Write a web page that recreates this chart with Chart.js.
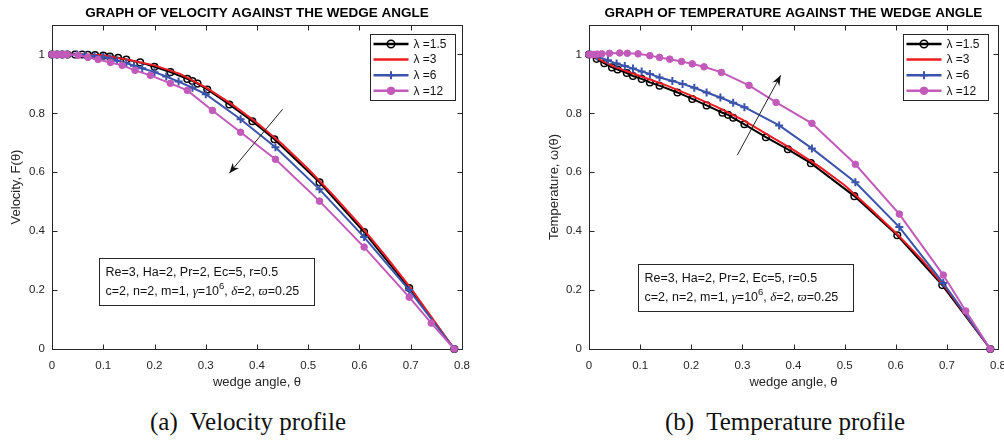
<!DOCTYPE html>
<html>
<head>
<meta charset="utf-8">
<script src="https://cdn.jsdelivr.net/npm/chart.js@4.4.0/dist/chart.umd.min.js"></script>
<style>
    body { margin: 0; background: #fff; width: 1004px; height: 441px; overflow: hidden; position: relative; }
    .panel { position: absolute; top: 0; }
    .caption { position: absolute; top: 408px; font-family: 'Liberation Serif', 'Times New Roman', serif; font-size: 25px; color: #111; white-space: nowrap; transform: translateX(-50%); }
</style>
</head>
<body>
<div class="panel" style="left:0"><canvas id="velocityChart" width="500" height="400"></canvas></div>
<div class="panel" style="left:500px"><canvas id="temperatureChart" width="504" height="400"></canvas></div>
<div class="caption" style="left:248px">(a)&nbsp; Velocity profile</div>
<div class="caption" style="left:785px">(b)&nbsp; Temperature profile</div>
<script>
const thetaTicks = [0, 0.1, 0.2, 0.3, 0.4, 0.5, 0.6, 0.7, 0.8];
const valueTicks = [0, 0.2, 0.4, 0.6, 0.8, 1];
const seriesLabels = ['λ =1.5', 'λ =3', 'λ =6', 'λ =12'];

// velocity F(theta)
const velTheta15 = [0, 0.01, 0.02, 0.03, 0.045, 0.059, 0.07, 0.084, 0.1, 0.113, 0.129, 0.145, 0.172, 0.2, 0.231, 0.264, 0.274, 0.284, 0.303, 0.346, 0.391, 0.434, 0.522, 0.609, 0.697, 0.785];
const velF15 = [1, 1, 1, 1, 1, 1, 0.999, 0.998, 0.996, 0.993, 0.989, 0.983, 0.973, 0.958, 0.94, 0.917, 0.91, 0.901, 0.881, 0.83, 0.773, 0.712, 0.566, 0.397, 0.207, 0];
const velTheta3 = [0, 0.05, 0.1, 0.15, 0.2, 0.25, 0.3, 0.35, 0.4, 0.45, 0.5, 0.55, 0.6, 0.65, 0.7, 0.785];
const velF3 = [1, 1, 0.997, 0.981, 0.963, 0.934, 0.888, 0.832, 0.768, 0.694, 0.611, 0.52, 0.423, 0.318, 0.207, 0];
const velTheta6 = [0, 0.01, 0.02, 0.03, 0.049, 0.065, 0.083, 0.1, 0.113, 0.127, 0.145, 0.16, 0.176, 0.2, 0.223, 0.247, 0.274, 0.3, 0.368, 0.436, 0.522, 0.609, 0.697, 0.785];
const velF6 = [1, 1, 1, 1, 1, 0.998, 0.995, 0.991, 0.986, 0.979, 0.97, 0.962, 0.953, 0.94, 0.925, 0.908, 0.887, 0.865, 0.78, 0.685, 0.542, 0.38, 0.2, 0];
const velTheta12 = [0, 0.005, 0.01, 0.015, 0.02, 0.025, 0.03, 0.051, 0.07, 0.09, 0.114, 0.137, 0.162, 0.192, 0.231, 0.264, 0.313, 0.368, 0.436, 0.522, 0.609, 0.697, 0.74, 0.785];
const velF12 = [1, 1, 1, 1, 1, 1, 1, 0.997, 0.99, 0.983, 0.973, 0.963, 0.946, 0.929, 0.902, 0.878, 0.81, 0.736, 0.644, 0.502, 0.346, 0.176, 0.088, 0];

// temperature omega(theta)
const tmpTheta15 = [0, 0.015, 0.03, 0.045, 0.056, 0.074, 0.086, 0.103, 0.119, 0.138, 0.173, 0.202, 0.23, 0.261, 0.272, 0.282, 0.304, 0.346, 0.389, 0.434, 0.519, 0.603, 0.691, 0.785];
const tmpW15 = [1, 0.985, 0.97, 0.956, 0.949, 0.937, 0.927, 0.917, 0.905, 0.894, 0.871, 0.849, 0.827, 0.802, 0.795, 0.785, 0.763, 0.719, 0.678, 0.631, 0.519, 0.386, 0.217, 0];
const tmpTheta3 = [0, 0.05, 0.1, 0.15, 0.2, 0.25, 0.3, 0.35, 0.4, 0.45, 0.5, 0.55, 0.6, 0.65, 0.7, 0.785];
const tmpW3 = [1, 0.958, 0.927, 0.896, 0.86, 0.822, 0.779, 0.727, 0.676, 0.62, 0.556, 0.477, 0.395, 0.305, 0.203, 0];
const tmpTheta6 = [0, 0.016, 0.037, 0.054, 0.07, 0.086, 0.103, 0.119, 0.138, 0.163, 0.183, 0.206, 0.23, 0.257, 0.282, 0.304, 0.372, 0.436, 0.521, 0.607, 0.693, 0.785];
const tmpW6 = [1, 0.994, 0.98, 0.969, 0.961, 0.952, 0.942, 0.934, 0.922, 0.91, 0.9, 0.887, 0.871, 0.854, 0.836, 0.821, 0.759, 0.681, 0.566, 0.414, 0.224, 0];
const tmpTheta12 = [0, 0.005, 0.01, 0.016, 0.025, 0.04, 0.06, 0.075, 0.096, 0.119, 0.138, 0.158, 0.181, 0.202, 0.225, 0.259, 0.313, 0.366, 0.436, 0.521, 0.607, 0.693, 0.737, 0.785];
const tmpW12 = [1, 1, 1, 1.001, 1.002, 1.004, 1.005, 1.004, 1.002, 0.996, 0.99, 0.984, 0.976, 0.968, 0.958, 0.939, 0.895, 0.837, 0.766, 0.627, 0.458, 0.251, 0.129, 0];

const paramLine1 = 'Re=3, Ha=2, Pr=2, Ec=5, r=0.5';
const velArrow = { from: [0.45, 0.814], to: [0.346, 0.597] };
const tmpArrow = { from: [0.29, 0.658], to: [0.375, 0.929] };

const SANS = '"Liberation Sans", Arial, sans-serif';
const SERIF = '"Liberation Serif", "Times New Roman", serif';
const AXIS_COLOR = '#262626';

function pairs(xs, ys) {
    return xs.map((x, i) => ({ x: x, y: ys[i] }));
}

function makeDatasets(t15, v15, t3, v3, t6, v6, t12, v12) {
    return [
        { label: seriesLabels[0], data: pairs(t15, v15), borderColor: '#000000', borderWidth: 2,
          pointStyle: 'circle', pointRadius: 3.3, pointBorderWidth: 1.5, pointBorderColor: '#000000',
          pointBackgroundColor: 'rgba(0,0,0,0)', order: 4, clip: false },
        { label: seriesLabels[1], data: pairs(t3, v3), borderColor: '#ee1b24', borderWidth: 2,
          pointRadius: 0, order: 3, clip: false },
        { label: seriesLabels[2], data: pairs(t6, v6), borderColor: '#3a54ab', borderWidth: 2,
          pointStyle: 'cross', pointRadius: 4, pointBorderWidth: 2, pointBorderColor: '#3a54ab',
          pointBackgroundColor: '#3a54ab', order: 2, clip: false },
        { label: seriesLabels[3], data: pairs(t12, v12), borderColor: '#c25aba', borderWidth: 2,
          pointStyle: 'circle', pointRadius: 3.3, pointBorderWidth: 1, pointBorderColor: '#c25aba',
          pointBackgroundColor: '#c25aba', order: 1, clip: false }
    ];
}

// box, inward ticks on all four sides, title, arrow, legend and parameter box
const framePlugin = {
    id: 'frame',
    beforeDatasetsDraw(chart) {
        const { ctx, chartArea: a, scales } = chart;
        const L = Math.round(a.left) + 0.5, R = Math.round(a.right) + 0.5;
        const T = Math.round(a.top) + 0.5, B = Math.round(a.bottom) + 0.5;
        ctx.save();
        ctx.strokeStyle = AXIS_COLOR;
        ctx.lineWidth = 1;
        ctx.strokeRect(L, T, R - L, B - T);
        ctx.beginPath();
        thetaTicks.forEach(v => {
            const x = Math.round(scales.x.getPixelForValue(v)) + 0.5;
            ctx.moveTo(x, B); ctx.lineTo(x, B - 5);
            ctx.moveTo(x, T); ctx.lineTo(x, T + 5);
        });
        valueTicks.forEach(v => {
            const y = Math.round(scales.y.getPixelForValue(v)) + 0.5;
            ctx.moveTo(L, y); ctx.lineTo(L + 5, y);
            ctx.moveTo(R, y); ctx.lineTo(R - 5, y);
        });
        ctx.stroke();
        ctx.restore();
    },
    afterDraw(chart, args, opts) {
        const { ctx, chartArea: a, scales } = chart;
        ctx.save();
        ctx.fillStyle = '#000';
        ctx.font = 'bold 13.5px ' + SANS;
        ctx.textAlign = 'center';
        ctx.textBaseline = 'middle';
        ctx.fillText(opts.title, (a.left + a.right) / 2, 13);

        // arrow
        const x1 = scales.x.getPixelForValue(opts.arrow.from[0]), y1 = scales.y.getPixelForValue(opts.arrow.from[1]);
        const x2 = scales.x.getPixelForValue(opts.arrow.to[0]), y2 = scales.y.getPixelForValue(opts.arrow.to[1]);
        const ang = Math.atan2(y2 - y1, x2 - x1);
        ctx.strokeStyle = '#222';
        ctx.lineWidth = 1;
        ctx.beginPath(); ctx.moveTo(x1, y1); ctx.lineTo(x2, y2); ctx.stroke();
        ctx.fillStyle = '#111';
        ctx.beginPath();
        ctx.moveTo(x2, y2);
        ctx.lineTo(x2 - 11 * Math.cos(ang - 0.38), y2 - 11 * Math.sin(ang - 0.38));
        ctx.lineTo(x2 - 7 * Math.cos(ang), y2 - 7 * Math.sin(ang));
        ctx.lineTo(x2 - 11 * Math.cos(ang + 0.38), y2 - 11 * Math.sin(ang + 0.38));
        ctx.closePath();
        ctx.fill();

        // legend box
        const lw = 85, lh = 66;
        const lx = Math.round(a.right - opts.legendRight - lw) + 0.5, ly = Math.round(a.top + 9) + 0.5;
        ctx.fillStyle = '#fff';
        ctx.fillRect(lx, ly, lw, lh);
        ctx.strokeStyle = AXIS_COLOR;
        ctx.strokeRect(lx, ly, lw, lh);
        chart.data.datasets.forEach((ds, i) => {
            const y = ly + 9.5 + i * 15.6;
            ctx.strokeStyle = ds.borderColor;
            ctx.lineWidth = ds.borderWidth + 0.5;
            ctx.beginPath(); ctx.moveTo(lx + 3, y); ctx.lineTo(lx + 38, y); ctx.stroke();
            const cx = lx + 20.5;
            if (ds.pointRadius > 0) {
                ctx.lineWidth = ds.pointBorderWidth;
                ctx.strokeStyle = ds.pointBorderColor;
                ctx.fillStyle = ds.pointBackgroundColor;
                if (ds.pointStyle === 'cross') {
                    ctx.lineWidth = 2;
                    ctx.beginPath();
                    ctx.moveTo(cx - 4, y); ctx.lineTo(cx + 4, y);
                    ctx.moveTo(cx, y - 4); ctx.lineTo(cx, y + 4);
                    ctx.stroke();
                } else {
                    ctx.beginPath(); ctx.arc(cx, y, ds.pointRadius + 0.5, 0, Math.PI * 2);
                    ctx.fill(); ctx.stroke();
                }
            }
            ctx.fillStyle = '#111';
            ctx.font = '12px ' + SANS;
            ctx.textAlign = 'left';
            ctx.fillText(ds.label, lx + 43, y + 0.5);
        });

        // parameter box
        const bx = Math.round(a.left + opts.boxLeft) + 0.5, by = Math.round(opts.boxTop) + 0.5;
        const bw = 215, bh = 47;
        ctx.fillStyle = '#fff';
        ctx.fillRect(bx, by, bw, bh);
        ctx.strokeStyle = AXIS_COLOR;
        ctx.lineWidth = 1;
        ctx.strokeRect(bx, by, bw, bh);
        ctx.fillStyle = '#111';
        ctx.textAlign = 'left';
        ctx.font = '12.5px ' + SANS;
        ctx.fillText(paramLine1, bx + 6, by + 14);
        const parts = [
            ['c=2, n=2, m=1, ', '12.5px ' + SANS, 0],
            ['γ', 'italic 13px ' + SERIF, 0],
            ['=10', '12.5px ' + SANS, 0],
            ['6', '9.5px ' + SANS, -5],
            [', ', '12.5px ' + SANS, 0],
            ['δ', 'italic 13px ' + SERIF, 0],
            ['=2, ', '12.5px ' + SANS, 0],
            ['ϖ', 'italic 13px ' + SERIF, 0],
            ['=0.25', '12.5px ' + SANS, 0]
        ];
        let px = bx + 6;
        parts.forEach(p => {
            ctx.font = p[1];
            ctx.fillText(p[0], px, by + 33 + p[2]);
            px += ctx.measureText(p[0]).width;
        });
        ctx.restore();
    }
};

function makeChart(canvasId, datasets, cfg) {
    const ctx = document.getElementById(canvasId).getContext('2d');
    return new Chart(ctx, {
        type: 'line',
        data: { datasets: datasets },
        plugins: [framePlugin],
        options: {
            responsive: false,
            animation: false,
            layout: { padding: { left: 0, right: cfg.padRight, top: 25, bottom: 0 } },
            elements: { line: { tension: 0 } },
            plugins: {
                legend: { display: false },
                tooltip: { enabled: false },
                frame: { title: cfg.title, arrow: cfg.arrow, legendRight: cfg.legendRight, boxLeft: cfg.boxLeft, boxTop: cfg.boxTop }
            },
            scales: {
                x: {
                    type: 'linear', min: 0, max: 0.8,
                    afterBuildTicks: s => { s.ticks = thetaTicks.map(v => ({ value: v })); },
                    afterFit: s => { s.height = 51; s.paddingLeft = 0; s.paddingRight = 0; },
                    grid: { display: false, drawTicks: false },
                    border: { display: false },
                    ticks: { padding: 10, color: AXIS_COLOR, font: { family: SANS, size: 11.5 }, maxRotation: 0,
                             callback: v => String(v) },
                    title: { display: true, text: 'wedge angle, θ', color: AXIS_COLOR,
                             font: { family: SANS, size: 13 }, padding: { top: 0, bottom: 10 } }
                },
                y: {
                    type: 'linear', min: 0, max: 1.1,
                    afterBuildTicks: s => { s.ticks = valueTicks.map(v => ({ value: v })); },
                    afterFit: s => { s.width = cfg.yWidth; s.paddingTop = 0; s.paddingBottom = 0; },
                    grid: { display: false, drawTicks: false },
                    border: { display: false },
                    ticks: { padding: 7, color: AXIS_COLOR, font: { family: SANS, size: 11.5 },
                             callback: v => String(v) },
                    title: { display: true, text: cfg.yTitle, color: AXIS_COLOR,
                             font: { family: SANS, size: 13 }, padding: { top: cfg.yTitlePad, bottom: 0 } }
                }
            }
        }
    });
}

makeChart('velocityChart', makeDatasets(velTheta15, velF15, velTheta3, velF3, velTheta6, velF6, velTheta12, velF12), {
    title: 'GRAPH OF VELOCITY AGAINST THE WEDGE ANGLE',
    yTitle: 'Velocity, F(θ)', yWidth: 52, yTitlePad: 9, padRight: 38,
    arrow: velArrow, legendRight: 7, boxLeft: 47, boxTop: 258
});

makeChart('temperatureChart', makeDatasets(tmpTheta15, tmpW15, tmpTheta3, tmpW3, tmpTheta6, tmpW6, tmpTheta12, tmpW12), {
    title: 'GRAPH OF TEMPERATURE AGAINST THE WEDGE ANGLE',
    yTitle: 'Temperature, ω(θ)', yWidth: 89, yTitlePad: 47, padRight: 3,
    arrow: tmpArrow, legendRight: 10, boxLeft: 49, boxTop: 264
});
</script>
</body>
</html>
